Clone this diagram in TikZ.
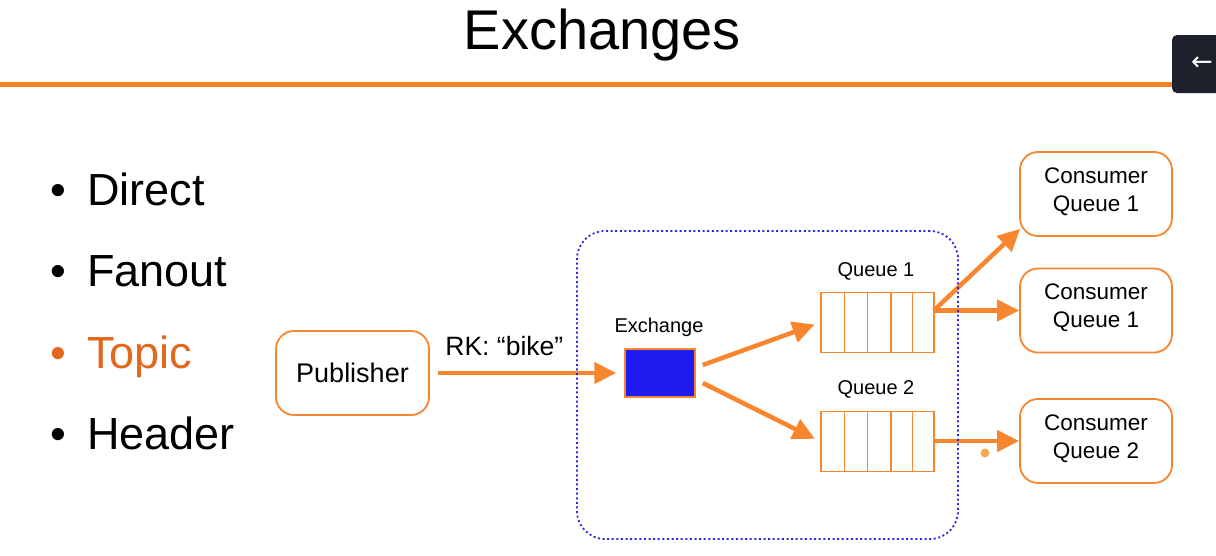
\documentclass[tikz,border=0pt]{standalone}
\usepackage{fontspec}
\setmainfont{Liberation Sans}
\newfontfamily\dejavu{DejaVu Sans}
\usetikzlibrary{arrows.meta,calc}
\definecolor{ora}{RGB}{247,134,46}
\definecolor{lineora}{RGB}{245,131,38}
\definecolor{topicora}{RGB}{226,104,30}
\definecolor{dashblue}{RGB}{40,40,220}
\definecolor{exblue}{RGB}{32,28,240}
\definecolor{btncol}{RGB}{30,32,44}
\definecolor{dotora}{RGB}{250,168,80}
\begin{document}
\begin{tikzpicture}[x=1pt,y=-1pt,
  rbox/.style={draw=ora, line width=1.8pt, rounded corners=18pt, fill=white, align=center, inner sep=0pt},
  consumer/.style={rbox, minimum width=152pt, minimum height=84pt, font=\fontsize{22.5}{28}\selectfont},
  queuebox/.style={draw=ora, line width=1.5pt, minimum width=113pt, minimum height=60pt, inner sep=0pt},
  qlabel/.style={font=\fontsize{20}{24}\selectfont, inner sep=0pt},
  arr/.style={draw=ora, line width=4.5pt, -{Triangle[length=22pt,width=21pt]}},
  bigtext/.style={anchor=base west, font=\fontsize{45}{54}\selectfont, inner sep=0pt},
  bullet/.style={anchor=base, font=\fontsize{45}{54}\selectfont, inner sep=0pt}]
\useasboundingbox (0,0) rectangle (1216,555);

% title and rule
\node[anchor=base, font=\fontsize{56}{64}\selectfont, inner sep=0pt] (title) at (602.5,49.5) {Exchanges};
\draw[lineora, line width=5pt] (0,84) -- (1172,84);

% button
\fill[btncol, rounded corners=5pt] (1172,35) rectangle (1226,93);
\node[text=white, font=\dejavu\fontsize{26}{30}\selectfont, inner sep=0pt] (btnarrow) at (1202,64) {←};

% bullets
\node[bullet] (d1) at (58,205) {•};
\node[bullet] (d2) at (58,286) {•};
\node[bullet, text=topicora] (d3) at (58,368) {•};
\node[bullet] (d4) at (58,449) {•};
\node[bigtext] (t1) at (87,205) {Direct};
\node[bigtext] (t2) at (87,286) {Fanout};
\node[bigtext, text=topicora] (t3) at (87,368) {Topic};
\node[bigtext] (t4) at (87,449) {Header};

% publisher
\node[rbox, minimum width=153pt, minimum height=84pt, font=\fontsize{27}{32}\selectfont] (pub) at (352.5,373) {Publisher};

% exchange
\node[draw=ora, line width=1.5pt, fill=exblue, minimum width=70pt, minimum height=48pt, inner sep=0pt] (exch) at (660,373) {};
\node[qlabel] (exlbl) at (659,327) {Exchange};

% queues
\node[queuebox] (q1) at (877.5,322.5) {};
\node[queuebox] (q2) at (877.5,441.5) {};
\foreach \q in {q1,q2}{
  \foreach \d in {24,47,70.5,92}{
    \draw[ora, line width=1.5pt] ($(\q.north west)+(\d,0)$) -- ($(\q.south west)+(\d,0)$);
  }
}
\node[qlabel] (q1lbl) at (876,271) {Queue 1};
\node[qlabel] (q2lbl) at (876,389) {Queue 2};

% consumers
\node[consumer] (c1) at (1096,194) {Consumer\\Queue 1\rule[-9pt]{0pt}{9pt}};
\node[consumer] (c2) at (1096,310.5) {Consumer\\Queue 1\rule[-9pt]{0pt}{9pt}};
\node[consumer] (c3) at (1096,441) {Consumer\\Queue 2\rule[-9pt]{0pt}{9pt}};

% connectors
\draw[arr, shorten <=8pt, shorten >=8pt] (pub) -- (exch)
  node[pos=0.383, above=15pt, font=\fontsize{26.5}{30}\selectfont, inner sep=0pt] (rk) {RK: “bike”};
\draw[arr, shorten >=6pt] ($(exch.east)+(7,-8)$) -- (q1.west);
\draw[arr, shorten >=6pt] ($(exch.east)+(7,10)$) -- (q2.west);
\draw[arr] ($(q1.east |- c2.west)+(-1,0)$) -- ($(c1.south west)+(1,-8)$);
\draw[arr] ($(q1.east |- c2.west)+(-1,0)$) -- (c2.west);
\draw[arr] ($(q2.east |- c3.west)+(-1,0)$) -- (c3.west);

\fill[dotora] (985,453) circle (4.5pt);

% container (drawn on top)
\node[draw=dashblue, dash pattern=on 2pt off 2.6pt, line width=1.8pt, rounded corners=28pt, minimum width=381pt, minimum height=308pt, inner sep=0pt] (cont) at (767.5,385) {};
\end{tikzpicture}
\end{document}
